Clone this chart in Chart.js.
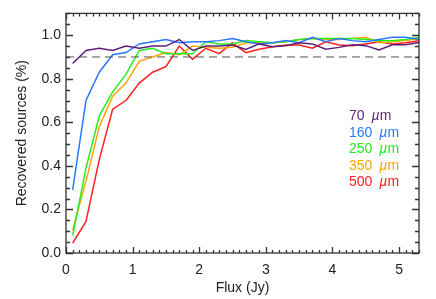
<!DOCTYPE html>
<html>
<head>
<meta charset="utf-8">
<script src="https://cdn.jsdelivr.net/npm/chart.js@4"></script>
<style>
  body { margin: 0; background: #fff; }
  canvas { display: block; }
</style>
</head>
<body>
<canvas id="myChart" width="436" height="299"></canvas>
<script>
// flux bins (Jy)
const flux = [0.1, 0.3, 0.5, 0.7, 0.9, 1.1, 1.3, 1.5, 1.7, 1.9, 2.1, 2.3, 2.5, 2.7,
              2.9, 3.1, 3.3, 3.5, 3.7, 3.9, 4.1, 4.3, 4.5, 4.7, 4.9, 5.1, 5.3];

// recovered fraction per band
const rec70 = [0.87, 0.93, 0.94, 0.93, 0.95, 0.94, 0.95, 0.95, 0.98, 0.93, 0.95, 0.95, 0.955, 0.935,
               0.96, 0.947, 0.952, 0.965, 0.96, 0.936, 0.944, 0.956, 0.952, 0.932, 0.956, 0.956, 0.967];
const rec160 = [0.29, 0.70, 0.83, 0.91, 0.92, 0.96, 0.97, 0.98, 0.965, 0.97, 0.97, 0.975, 0.985, 0.97,
                0.96, 0.965, 0.975, 0.965, 0.99, 0.97, 0.985, 0.975, 0.97, 0.98, 0.99, 0.99, 0.98];
const rec250 = [0.08, 0.39, 0.63, 0.74, 0.82, 0.93, 0.94, 0.915, 0.915, 0.915, 0.97, 0.96, 0.96, 0.975,
                0.97, 0.965, 0.97, 0.98, 0.985, 0.985, 0.985, 0.985, 0.98, 0.975, 0.975, 0.98, 0.99];
const rec350 = [0.105, 0.33, 0.58, 0.72, 0.78, 0.88, 0.90, 0.92, 0.91, 0.95, 0.945, 0.94, 0.945, 0.965,
                0.965, 0.965, 0.97, 0.98, 0.985, 0.98, 0.98, 0.985, 0.99, 0.965, 0.97, 0.975, 0.985];
const rec500 = [0.045, 0.145, 0.43, 0.66, 0.70, 0.78, 0.83, 0.855, 0.95, 0.89, 0.94, 0.915, 0.965, 0.92,
                0.935, 0.947, 0.955, 0.955, 0.94, 0.97, 0.955, 0.952, 0.96, 0.97, 0.96, 0.965, 0.975];

const bands = ['70', '160', '250', '350', '500'];
const colors = ['#5e1f7a', '#2a78ff', '#22ee22', '#ffa400', '#ff2020'];

// 90% completeness reference line
const threshold = [0.9, 0.9];
const thresholdX = [0, 5.3];

const xTicks = [0, 1, 2, 3, 4, 5];
const yTicks = [0.0, 0.2, 0.4, 0.6, 0.8, 1.0];

const FONT = 'Liberation Sans';

function pts(xs, ys) {
    return xs.map((x, i) => ({ x: x, y: ys[i] }));
}

const series = [rec70, rec160, rec250, rec350, rec500];
const datasets = series.map((s, i) => ({
    label: bands[i],
    data: pts(flux, s),
    borderColor: colors[i],
    borderWidth: 1.5,
    pointRadius: 0,
    tension: 0
}));
datasets.unshift({
    label: 'limit',
    data: pts(thresholdX, threshold),
    borderColor: '#555',
    borderWidth: 1,
    borderDash: [8, 5],
    pointRadius: 0
});

// IDL style frame with inward ticks on all four sides, plus the band labels
const framePlugin = {
    id: 'frame',
    afterDraw(chart) {
        const ctx = chart.ctx;
        const a = chart.chartArea;
        const xs = chart.scales.x, ys = chart.scales.y;
        ctx.save();
        ctx.strokeStyle = '#333';
        ctx.lineWidth = 1.3;
        ctx.strokeRect(a.left, a.top, a.right - a.left, a.bottom - a.top);

        ctx.beginPath();
        for (let i = 0; i <= 53; i++) {
            const px = Math.round(xs.getPixelForValue(i / 10)) + 0.5;
            const len = (i % 10 === 0) ? 6 : 3;
            ctx.moveTo(px, a.bottom); ctx.lineTo(px, a.bottom - len);
            ctx.moveTo(px, a.top); ctx.lineTo(px, a.top + len);
        }
        for (let j = 0; j <= 22; j++) {
            const py = Math.round(ys.getPixelForValue(j / 20)) + 0.5;
            const len = (j % 4 === 0) ? 7 : 4;
            ctx.moveTo(a.left, py); ctx.lineTo(a.left + len, py);
            ctx.moveTo(a.right, py); ctx.lineTo(a.right - len, py);
        }
        ctx.stroke();

        // band labels
        ctx.textBaseline = 'alphabetic';
        bands.forEach((b, i) => {
            const x0 = 349, y0 = 120 + i * 16.5;
            ctx.fillStyle = colors[i];
            ctx.font = '14px "' + FONT + '"';
            ctx.fillText(b, x0, y0);
            let x = x0 + ctx.measureText(b).width + 7;
            ctx.font = 'italic 14px "' + FONT + '"';
            ctx.fillText('\u00b5', x, y0);
            x += ctx.measureText('\u00b5').width;
            ctx.font = '14px "' + FONT + '"';
            ctx.fillText('m', x, y0);
        });
        ctx.restore();
    }
};

const ctx = document.getElementById('myChart').getContext('2d');
const chart = new Chart(ctx, {
    type: 'line',
    data: { datasets: datasets },
    options: {
        responsive: false,
        animation: false,
        layout: { padding: { top: 11, right: 17, left: 0, bottom: 0 } },
        plugins: { legend: { display: false }, tooltip: { enabled: false } },
        scales: {
            x: {
                type: 'linear',
                min: 0,
                max: 5.3,
                grid: { display: false, drawTicks: false },
                border: { display: false },
                afterBuildTicks: s => { s.ticks = xTicks.map(v => ({ value: v })); },
                afterFit: s => { s.height = 46; },
                ticks: {
                    font: { family: FONT, size: 14 },
                    color: '#222',
                    padding: 9,
                    maxRotation: 0,
                    autoSkip: false,
                    callback: v => String(v)
                },
                title: {
                    display: true,
                    text: 'Flux (Jy)',
                    font: { family: FONT, size: 14 },
                    color: '#222',
                    padding: { top: 0, bottom: 2.6 }
                }
            },
            y: {
                min: 0,
                max: 1.1,
                grid: { display: false, drawTicks: false },
                border: { display: false },
                afterBuildTicks: s => { s.ticks = yTicks.map(v => ({ value: v })); },
                afterFit: s => { s.width = 66; },
                ticks: {
                    font: { family: FONT, size: 14 },
                    color: '#222',
                    padding: 5,
                    autoSkip: false,
                    callback: v => v.toFixed(1)
                },
                title: {
                    display: true,
                    text: 'Recovered sources (%)',
                    font: { family: FONT, size: 14 },
                    color: '#222',
                    padding: { top: 13.6, bottom: 0 }
                }
            }
        }
    },
    plugins: [framePlugin]
});
</script>
</body>
</html>
